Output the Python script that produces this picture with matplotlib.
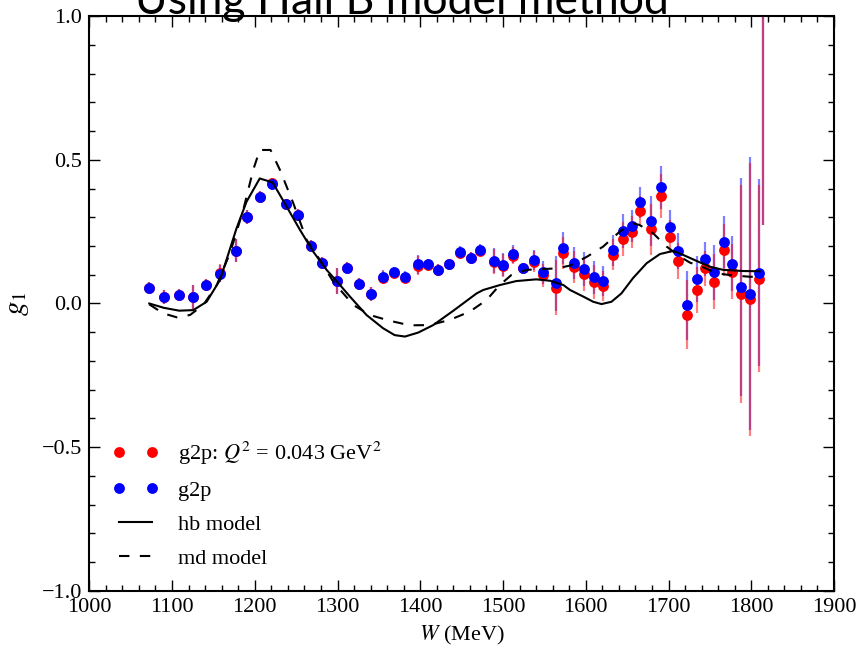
import matplotlib
matplotlib.use("Agg")
import matplotlib.pyplot as plt
from matplotlib.ticker import MultipleLocator

# data points (W in MeV)
w_pts = [1072.5, 1090.6, 1108.4, 1125.3, 1141.4, 1158.0, 1177.6, 1190.2, 1205.9, 1221.0,
         1237.3, 1252.2, 1267.5, 1281.5, 1299.6, 1311.7, 1325.9, 1340.0, 1354.5, 1367.8,
         1381.5, 1397.6, 1408.9, 1421.7, 1435.0, 1448.3, 1461.6, 1472.5, 1488.6, 1499.5,
         1512.3, 1524.4, 1537.3, 1548.6, 1564.0, 1572.7, 1585.3, 1597.8, 1609.8, 1620.3,
         1633.2, 1644.5, 1656.1, 1665.8, 1678.7, 1690.4, 1702.0, 1711.3, 1722.6, 1734.3,
         1743.6, 1755.2, 1766.6, 1776.6, 1787.1, 1798.0, 1809.6, 1813.7]

g1_blue = [0.055, 0.023, 0.030, 0.023, 0.064, 0.104, 0.183, 0.300, 0.372, 0.416,
           0.345, 0.308, 0.200, 0.142, 0.078, 0.125, 0.068, 0.033, 0.093, 0.108,
           0.093, 0.136, 0.136, 0.117, 0.136, 0.179, 0.159, 0.186, 0.149, 0.134,
           0.172, 0.122, 0.151, 0.108, 0.070, 0.194, 0.142, 0.121, 0.091, 0.078,
           0.186, 0.252, 0.270, 0.352, 0.287, 0.405, 0.267, 0.182, -0.006, 0.084,
           0.155, 0.108, 0.214, 0.139, 0.058, 0.034, 0.107, 1.500]

g1_red = [0.055, 0.023, 0.030, 0.023, 0.064, 0.106, 0.183, 0.300, 0.372, 0.418,
          0.345, 0.308, 0.200, 0.142, 0.078, 0.125, 0.068, 0.033, 0.090, 0.105,
          0.090, 0.132, 0.134, 0.117, 0.136, 0.176, 0.159, 0.184, 0.146, 0.132,
          0.166, 0.122, 0.146, 0.098, 0.055, 0.177, 0.126, 0.103, 0.075, 0.061,
          0.169, 0.224, 0.249, 0.322, 0.258, 0.374, 0.232, 0.149, -0.039, 0.048,
          0.122, 0.076, 0.185, 0.111, 0.033, 0.015, 0.086, 1.500]

g1_err = [0.020, 0.025, 0.020, 0.042, 0.020, 0.030, 0.040, 0.025, 0.020, 0.020,
          0.020, 0.020, 0.020, 0.020, 0.045, 0.020, 0.020, 0.023, 0.023, 0.020,
          0.020, 0.032, 0.020, 0.020, 0.020, 0.020, 0.020, 0.020, 0.043, 0.040,
          0.030, 0.020, 0.035, 0.040, 0.095, 0.056, 0.056, 0.059, 0.058, 0.053,
          0.054, 0.059, 0.056, 0.053, 0.088, 0.075, 0.058, 0.063, 0.120, 0.080,
          0.060, 0.095, 0.090, 0.097, 0.380, 0.475, 0.325, 1.227]

# hb model (solid)
w_hb = [1072.5, 1090, 1108.7, 1125.7, 1141.8, 1158, 1178, 1190, 1206, 1221.6,
        1238.5, 1254.6, 1270.7, 1286.8, 1303, 1315, 1335, 1355, 1369, 1381.5,
        1397.6, 1415.7, 1440, 1468, 1476, 1496, 1516, 1540, 1557, 1573,
        1581, 1597, 1609, 1619, 1631, 1643, 1657, 1673.5, 1689.6, 1705.7,
        1717.7, 1734, 1750, 1766, 1790, 1810]
g1_hb = [0.0, -0.015, -0.025, -0.023, 0.006, 0.082, 0.262, 0.354, 0.435, 0.421,
         0.337, 0.256, 0.180, 0.117, 0.064, 0.024, -0.040, -0.086, -0.110, -0.115,
         -0.101, -0.075, -0.025, 0.035, 0.047, 0.064, 0.078, 0.084, 0.079, 0.064,
         0.047, 0.024, 0.006, -0.002, 0.006, 0.035, 0.088, 0.140, 0.172, 0.183,
         0.169, 0.148, 0.128, 0.117, 0.113, 0.112]

# md model (dashed)
w_md = [1072.5, 1089, 1105.6, 1121.7, 1137.8, 1154, 1170, 1186, 1198, 1206,
        1219, 1230.5, 1246.5, 1262.7, 1278.8, 1295, 1319, 1339, 1363, 1387.5,
        1411.6, 1435.7, 1460, 1480, 1496, 1510, 1528.5, 1548.6, 1565, 1581,
        1601, 1621, 1641, 1657, 1665, 1681.5, 1697.7, 1713.8, 1726, 1742,
        1758, 1774, 1798, 1810]
g1_md = [-0.003, -0.034, -0.048, -0.040, -0.005, 0.064, 0.175, 0.325, 0.464, 0.534,
         0.534, 0.464, 0.349, 0.221, 0.151, 0.075, -0.005, -0.040, -0.060, -0.076,
         -0.075, -0.057, -0.028, 0.012, 0.064, 0.099, 0.117, 0.120, 0.122, 0.132,
         0.162, 0.198, 0.250, 0.279, 0.273, 0.244, 0.198, 0.163, 0.142, 0.126,
         0.105, 0.099, 0.093, 0.093]

plt.rcParams['font.family'] = 'serif'
plt.rcParams['font.serif'] = ['Liberation Serif', 'DejaVu Serif']
plt.rcParams['mathtext.fontset'] = 'stix'

fig = plt.figure(figsize=(8.57, 6.51), dpi=100)
ax = fig.add_axes([0.1042, 0.0922, 0.8690, 0.8832])

# blue bars first, red on top -> purple where they overlap
ax.errorbar(w_pts, g1_blue, yerr=g1_err, fmt='none', ecolor='blue', alpha=0.5,
            elinewidth=1.6, capsize=0, zorder=2)
ax.errorbar(w_pts, g1_red, yerr=g1_err, fmt='none', ecolor='red', alpha=0.5,
            elinewidth=1.6, capsize=0, zorder=2)
ax.plot(w_pts, g1_red, 'o', color='red', markersize=7.8, markeredgewidth=0,
        label='g2p: $Q^2$ = 0.043 GeV$^2$', zorder=3)
ax.plot(w_pts, g1_blue, 'o', color='blue', markersize=7.8, markeredgewidth=0,
        label='g2p', zorder=4)
ax.plot(w_hb, g1_hb, '-', color='black', lw=1.5, label='hb model', zorder=5)
ax.plot(w_md, g1_md, color='black', lw=1.5, linestyle=(0, (5, 5)), label='md model', zorder=5)

ax.set_xlim(1000, 1900)
ax.set_ylim(-1.0, 1.0)
ax.xaxis.set_major_locator(MultipleLocator(100))
ax.xaxis.set_minor_locator(MultipleLocator(20))
ax.yaxis.set_major_locator(MultipleLocator(0.5))
ax.yaxis.set_minor_locator(MultipleLocator(0.1))
ax.tick_params(which='both', direction='in', top=True, right=True, labelsize=16, width=1)
ax.tick_params(which='major', length=8, pad=5)
ax.tick_params(which='minor', length=4)
for s in ax.spines.values():
    s.set_linewidth(1.5)

ax.set_xlabel('$W$ (MeV)', fontsize=16, labelpad=5)
ax.set_ylabel('$g_1$', fontsize=21, labelpad=8)

ax.legend(loc='lower left', numpoints=2, frameon=False, fontsize=16,
          handlelength=2.1, handletextpad=0.85, labelspacing=0.6,
          bbox_to_anchor=(0.004, 0.004))

fig.text(402 / 857, 1 - 13.6 / 651, 'Using Hall B model method', family='Lato',
         fontsize=32, ha='center', va='baseline')

fig.savefig('out.png', dpi=100)
